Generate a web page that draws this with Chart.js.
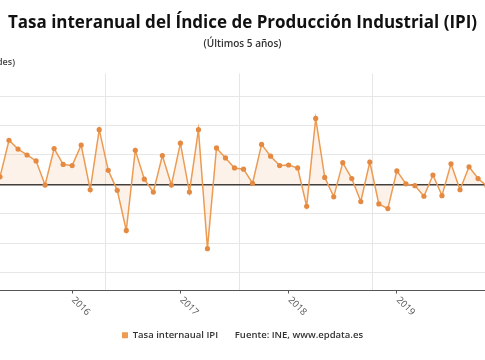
<!DOCTYPE html>
<html>
<head>
<meta charset="utf-8">
<script src="https://cdn.jsdelivr.net/npm/chart.js@4"></script>
<style>
html, body { margin: 0; padding: 0; background: #fff; }
</style>
</head>
<body>
<canvas id="ipiChart" width="485" height="360"></canvas>
<script>
// meses (mayo 2015 - noviembre 2019)
const months = [
  '2015-05','2015-06','2015-07','2015-08','2015-09','2015-10','2015-11','2015-12',
  '2016-01','2016-02','2016-03','2016-04','2016-05','2016-06','2016-07','2016-08','2016-09','2016-10','2016-11','2016-12',
  '2017-01','2017-02','2017-03','2017-04','2017-05','2017-06','2017-07','2017-08','2017-09','2017-10','2017-11','2017-12',
  '2018-01','2018-02','2018-03','2018-04','2018-05','2018-06','2018-07','2018-08','2018-09','2018-10','2018-11','2018-12',
  '2019-01','2019-02','2019-03','2019-04','2019-05','2019-06','2019-07','2019-08','2019-09','2019-10','2019-11'
]
const ipiRates = [
  1.3, 7.5, 6.0, 5.0, 4.0, -0.1, 6.1, 3.4,
  3.2, 6.7, -0.9, 9.3, 2.4, -1.0, -7.8, 5.8, 0.9, -1.3, 4.9, -0.1,
  7.0, -1.3, 9.3, -10.9, 6.2, 4.5, 2.8, 2.6, 0.2, 6.8, 4.8, 3.2,
  3.3, 2.8, -3.7, 11.2, 1.2, -2.1, 3.7, 1.0, -2.9, 3.8, -3.3, -4.1,
  2.3, 0.1, -0.2, -2.0, 1.6, -1.9, 3.5, -0.9, 3.0, 1.0, -0.3
]
const yearStarts = ['2016-01','2017-01','2018-01','2019-01']
const yearLabels = ['2016','2017','2018','2019']
const yTicks = [-15, -10, -5, 0, 5, 10, 15]

const font = '"Open Sans", "DejaVu Sans", sans-serif'
const orange = '#ec9b52'

const yearLabelsPlugin = {
  id: 'yearLabels',
  afterDraw(chart) {
    const ctx = chart.ctx
    const xs = chart.scales.x
    ctx.save()
    ctx.font = '9.5px ' + font
    ctx.fillStyle = '#555'
    ctx.textAlign = 'left'
    ctx.textBaseline = 'middle'
    yearStarts.forEach((m, i) => {
      const px = xs.getPixelForValue(months.indexOf(m))
      ctx.save()
      ctx.translate(px + 1, chart.chartArea.bottom + 8)
      ctx.rotate(Math.PI / 4)
      ctx.fillText(yearLabels[i], 0, 0)
      ctx.restore()
    })
    // titulo del eje (recortado)
    ctx.font = '600 9px ' + font
    ctx.fillStyle = '#444'
    ctx.textAlign = 'right'
    ctx.fillText('(Unidades)', 15, 62)
    ctx.restore()
  }
}

const ctx = document.getElementById('ipiChart').getContext('2d')
new Chart(ctx, {
  type: 'line',
  data: {
    datasets: [{
      label: 'Tasa internaual IPI',
      data: ipiRates.map((v, i) => ({ x: i, y: v })),
      xAxisID: 'x',
      borderColor: orange,
      borderWidth: 1.5,
      backgroundColor: 'rgba(240, 150, 80, 0.12)',
      fill: 'origin',
      tension: 0,
      pointRadius: 2.6,
      pointBorderWidth: 0,
      pointBackgroundColor: '#e58a42'
    }]
  },
  options: {
    responsive: false,
    animation: false,
    layout: { autoPadding: false, padding: { top: 0, left: 0, right: 0, bottom: 10 } },
    scales: {
      x: {
        type: 'linear',
        position: 'bottom',
        min: 0,
        max: 53.77,
        afterBuildTicks: s => { s.ticks = yearStarts.map(m => ({ value: months.indexOf(m) })) },
        afterFit: s => { s.height = 34 },
        ticks: { display: false },
        grid: { drawOnChartArea: false, tickLength: 3, color: '#555' },
        border: { color: '#555', width: 1 }
      },
      xg: {
        type: 'linear',
        position: 'bottom',
        min: 0,
        max: 53.77,
        afterBuildTicks: s => { s.ticks = [11.75, 26.5, 41.25].map(v => ({ value: v })) },
        afterFit: s => { s.height = 0 },
        ticks: { display: false },
        grid: { drawTicks: false, color: '#e6e6e6' },
        border: { display: false }
      },
      y: {
        min: -18,
        max: 18.85,
        afterBuildTicks: s => { s.ticks = yTicks.map(v => ({ value: v })) },
        afterFit: s => { s.width = 0 },
        ticks: { display: false },
        grid: {
          drawTicks: false,
          color: c => c.tick && c.tick.value === 0 ? '#3a3a3a' : '#e6e6e6',
          lineWidth: c => c.tick && c.tick.value === 0 ? 1.5 : 1
        },
        border: { display: false }
      }
    },
    plugins: {
      title: {
        display: true,
        text: 'Tasa interanual del Índice de Producción Industrial (IPI)',
        color: '#111',
        font: { family: font, size: 17, weight: 'bold' },
        padding: { top: 13, bottom: 2 }
      },
      subtitle: {
        display: true,
        text: '(Últimos 5 años)',
        color: '#333',
        font: { family: font, size: 10, weight: '600' },
        padding: { top: 3, bottom: 23 }
      },
      legend: {
        position: 'bottom',
        labels: {
          boxWidth: 6,
          boxHeight: 6,
          padding: 6,
          color: '#333',
          font: { family: font, size: 9.5, weight: '600' },
          generateLabels: chart => [
            { text: chart.data.datasets[0].label, fillStyle: orange, strokeStyle: orange, lineWidth: 0, datasetIndex: 0, fontColor: '#333' },
            { text: 'Fuente: INE, www.epdata.es', fillStyle: 'rgba(0,0,0,0)', strokeStyle: 'rgba(0,0,0,0)', lineWidth: 0, fontColor: '#333' }
          ]
        }
      },
      tooltip: { enabled: false }
    }
  },
  plugins: [yearLabelsPlugin]
})
</script>
</body>
</html>
